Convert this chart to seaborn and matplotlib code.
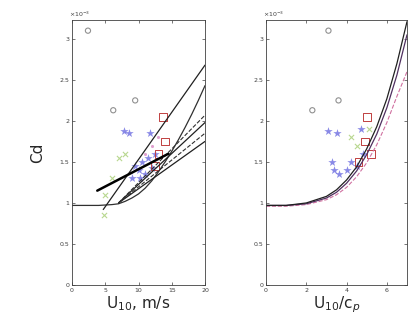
import numpy as np
import pandas as pd
import matplotlib
matplotlib.use("Agg")
import matplotlib.pyplot as plt
import seaborn as sns
from matplotlib.ticker import FuncFormatter

sns.set_style("ticks")
plt.rcParams['font.family'] = ['DejaVu Sans']

# ---------------- data (Cd in units of 1e-3) ----------------
# Left panel: lines vs U10
flat_u = [0, 2, 4, 6, 7, 8, 9, 10, 11, 12, 13, 14, 15, 16, 17, 18, 19, 20]
flat_cd = [0.97, 0.97, 0.97, 0.98, 0.99, 1.02, 1.06, 1.11, 1.18, 1.27, 1.38, 1.50,
           1.63, 1.77, 1.92, 2.08, 2.25, 2.43]
steep_u = [4.7, 20]
steep_cd = [0.92, 2.68]
fan_u = [7, 20]
fan1_cd = [1.00, 1.75]
fan2_cd = [1.00, 1.98]
fan3_cd = [1.00, 2.07]   # dashed
fan4_cd = [1.00, 1.85]   # dashed
thick_u = [3.8, 14.5]
thick_cd = [1.15, 1.60]

# Left panel: observations
circ_u = [2.4, 9.5, 6.2]
circ_cd = [3.10, 2.25, 2.13]
star_u = [7.8, 8.6, 9.5, 10.0, 10.5, 11.0, 11.5, 12.0, 12.5, 9.0, 10.2, 11.8]
star_cd = [1.88, 1.85, 1.45, 1.40, 1.50, 1.35, 1.55, 1.42, 1.60, 1.30, 1.30, 1.85]
sq_u = [13.7, 13.0, 12.5, 14.0]
sq_cd = [2.05, 1.60, 1.45, 1.75]
grn_u = [7.0, 6.0, 5.0, 8.0, 4.8]
grn_cd = [1.55, 1.30, 1.10, 1.60, 0.85]
mag_u = [12.0, 13.0, 11.0]
mag_cd = [1.70, 1.80, 1.60]

# Right panel: curves vs U10/cp
wa = [0, 1, 2, 3, 3.5, 4, 4.5, 5, 5.5, 6, 6.5, 7]
curve1_cd = [0.97, 0.97, 1.00, 1.08, 1.16, 1.28, 1.44, 1.66, 1.93, 2.27, 2.70, 3.21]
curve2_cd = [0.97, 0.97, 0.99, 1.06, 1.13, 1.24, 1.39, 1.59, 1.84, 2.16, 2.56, 3.05]
curve3_cd = [0.96, 0.96, 0.98, 1.04, 1.10, 1.19, 1.32, 1.49, 1.71, 1.98, 2.30, 2.60]

r_circ_w = [3.1, 3.6, 2.3]
r_circ_cd = [3.10, 2.25, 2.13]
r_star_w = [3.1, 3.5, 4.7, 3.4, 3.6, 4.2, 4.5, 4.8, 3.3, 4.0]
r_star_cd = [1.88, 1.85, 1.90, 1.40, 1.35, 1.50, 1.45, 1.60, 1.50, 1.40]
r_sq_w = [5.0, 4.9, 5.2, 4.6]
r_sq_cd = [2.05, 1.75, 1.60, 1.50]
r_grn_w = [4.2, 4.5, 5.1]
r_grn_cd = [1.80, 1.70, 1.90]

yticks = [0, 0.5, 1, 1.5, 2, 2.5, 3]

# ---------------- figure ----------------
fig = plt.figure(figsize=(4.15, 3.21), dpi=100)
axL = fig.add_axes([72/415, 36/321, 133/415, 265/321])
axR = fig.add_axes([266/415, 36/321, 141/415, 265/321])

def line(ax, x, y, **kw):
    sns.lineplot(x=x, y=y, ax=ax, sort=False, estimator=None, legend=False, **kw)

def pts(ax, x, y, **kw):
    sns.scatterplot(x=x, y=y, ax=ax, legend=False, **kw)

# Left panel
pts(axL, circ_u, circ_cd, marker='o', s=14, facecolor='none', edgecolor='#909090', linewidth=0.8)
pts(axL, grn_u, grn_cd, marker='x', s=14, color='#b8d890', linewidth=0.8)
pts(axL, mag_u, mag_cd, marker='.', s=20, color='#e0a0d0', linewidth=0)
pts(axL, star_u, star_cd, marker='*', s=40, color='#3b3bd6', alpha=0.6, linewidth=0)
pts(axL, sq_u, sq_cd, marker='s', s=30, facecolor='none', edgecolor='#c04040', linewidth=0.7)
line(axL, flat_u, flat_cd, color='#303030', linewidth=0.9)
line(axL, steep_u, steep_cd, color='#202020', linewidth=0.9)
line(axL, fan_u, fan1_cd, color='#202020', linewidth=0.9)
line(axL, fan_u, fan2_cd, color='#202020', linewidth=0.9)
line(axL, fan_u, fan3_cd, color='#303030', linewidth=0.8, linestyle='--')
line(axL, fan_u, fan4_cd, color='#303030', linewidth=0.8, linestyle='--')
line(axL, thick_u, thick_cd, color='black', linewidth=1.8)

# Right panel
pts(axR, r_circ_w, r_circ_cd, marker='o', s=14, facecolor='none', edgecolor='#909090', linewidth=0.8)
pts(axR, r_grn_w, r_grn_cd, marker='x', s=14, color='#b8d890', linewidth=0.8)
pts(axR, r_star_w, r_star_cd, marker='*', s=40, color='#3b3bd6', alpha=0.6, linewidth=0)
pts(axR, r_sq_w, r_sq_cd, marker='s', s=30, facecolor='none', edgecolor='#c04040', linewidth=0.7)
line(axR, wa, curve3_cd, color='#d070a0', linewidth=0.8, linestyle='--')
line(axR, wa, curve2_cd, color='#503060', linewidth=0.9)
line(axR, wa, curve1_cd, color='#202020', linewidth=0.9)

fmt = FuncFormatter(lambda v, p: ('%g' % v))
for ax, xl, xt in [(axL, (0, 20), [0, 5, 10, 15, 20]), (axR, (0, 7), [0, 2, 4, 6])]:
    ax.set_xlim(*xl)
    ax.set_ylim(0, 3.23)
    ax.set_xticks(xt)
    ax.set_yticks(yticks)
    ax.xaxis.set_major_formatter(fmt)
    ax.yaxis.set_major_formatter(fmt)
    ax.tick_params(direction='in', length=2.5, width=0.5, labelsize=4.5,
                   top=True, right=True, colors='#404040', pad=2)
    for s in ax.spines.values():
        s.set_visible(True)
        s.set_linewidth(0.6)
        s.set_color('#404040')
    ax.set_ylabel('')
    ax.text(-0.02, 1.005, r'$\times10^{-3}$', transform=ax.transAxes,
            fontsize=4.5, color='#404040', ha='left', va='bottom')

axL.set_xlabel(r'U$_{10}$, m/s', fontsize=11, labelpad=1)
axR.set_xlabel(r'U$_{10}$/c$_p$', fontsize=11, labelpad=1)
axL.set_ylabel('Cd', fontsize=11, labelpad=10)

fig.savefig('out.png', dpi=100, facecolor='white')
